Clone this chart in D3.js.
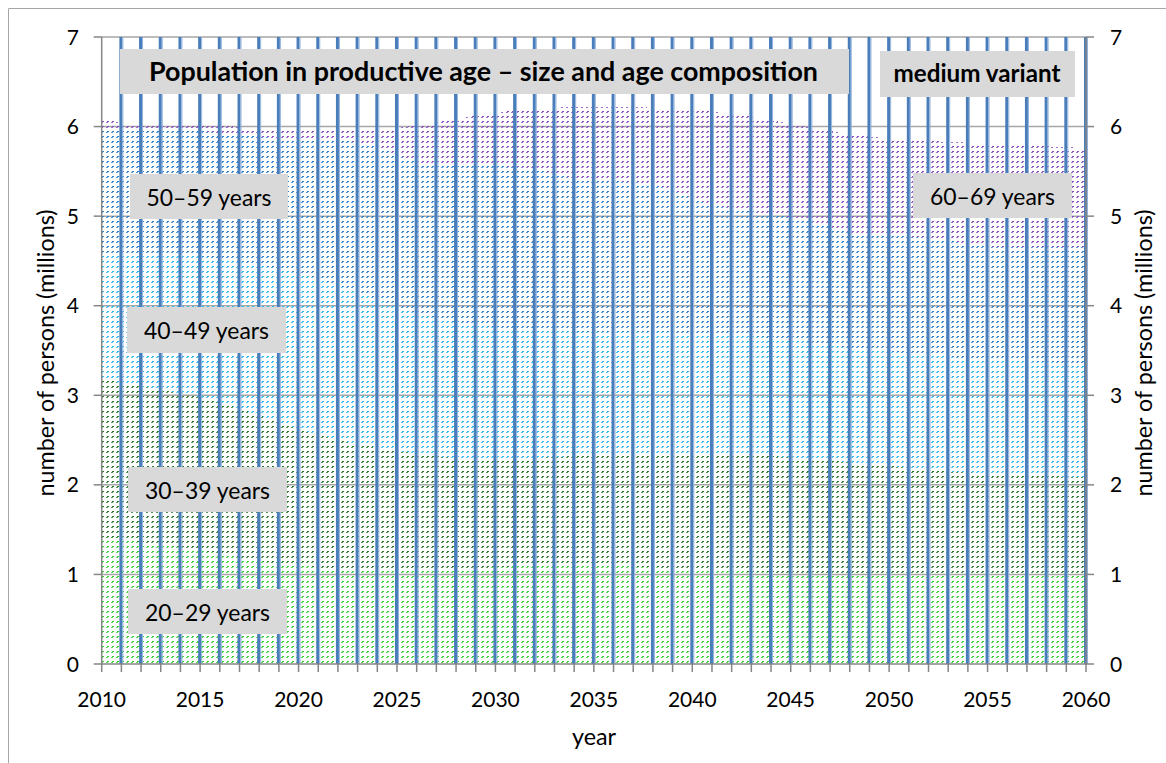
<!DOCTYPE html>
<html><head><meta charset="utf-8">
<script src="https://cdn.jsdelivr.net/npm/d3@7"></script>
<style>html,body{margin:0;padding:0;background:#fff;}svg{display:block;font-family:Lato,"Open Sans",sans-serif;}</style>
</head><body>
<svg id="chart" width="1166" height="763"></svg>
<script>
// ---- data ----
const years = d3.range(2010, 2061);
const ageGroups = ["20–29 years", "30–39 years", "40–49 years", "50–59 years", "60–69 years"];
const age20_29 = [1.40,1.38,1.36,1.33,1.30,1.27,1.23,1.19,1.15,1.12,1.10,1.08,1.06,1.05,1.04,1.04,1.04,1.05,1.06,1.07,1.08,1.09,1.10,1.10,1.10,1.10,1.10,1.09,1.08,1.07,1.06,1.05,1.04,1.03,1.02,1.01,1.01,1.00,1.00,1.00,1.00,1.00,1.00,1.00,1.00,1.00,1.00,1.00,1.00,1.00,1.00];
const age30_39 = [1.79,1.75,1.74,1.73,1.72,1.71,1.69,1.66,1.63,1.58,1.52,1.48,1.44,1.41,1.38,1.34,1.31,1.27,1.24,1.22,1.21,1.20,1.20,1.21,1.22,1.23,1.24,1.26,1.27,1.28,1.29,1.30,1.30,1.30,1.30,1.30,1.28,1.27,1.25,1.23,1.21,1.19,1.17,1.15,1.14,1.13,1.12,1.11,1.10,1.09,1.09];
const age40_49 = [1.36,1.43,1.47,1.51,1.54,1.57,1.60,1.64,1.67,1.71,1.74,1.74,1.73,1.69,1.65,1.61,1.57,1.54,1.51,1.49,1.47,1.45,1.43,1.41,1.39,1.38,1.37,1.36,1.36,1.35,1.35,1.34,1.34,1.33,1.32,1.31,1.30,1.29,1.28,1.28,1.28,1.28,1.28,1.28,1.27,1.27,1.27,1.27,1.27,1.27,1.26];
const age50_59 = [1.43,1.41,1.40,1.39,1.40,1.40,1.41,1.42,1.44,1.46,1.50,1.55,1.61,1.68,1.71,1.69,1.68,1.71,1.75,1.78,1.80,1.81,1.80,1.75,1.71,1.69,1.68,1.67,1.65,1.60,1.50,1.43,1.41,1.40,1.38,1.37,1.36,1.32,1.28,1.28,1.29,1.30,1.31,1.31,1.27,1.26,1.26,1.27,1.28,1.29,1.30];
const age60_69 = [0.11,0.07,0.06,0.07,0.07,0.08,0.09,0.08,0.09,0.10,0.11,0.11,0.12,0.14,0.20,0.31,0.41,0.48,0.53,0.56,0.59,0.63,0.67,0.74,0.80,0.82,0.83,0.84,0.85,0.90,0.99,1.05,1.05,1.05,1.05,1.04,1.04,1.07,1.11,1.10,1.09,1.08,1.08,1.09,1.14,1.15,1.15,1.14,1.13,1.12,1.11];
const barYears = d3.range(2011, 2061);
const barValue = 7;
const yTicks = [0,1,2,3,4,5,6,7];
const xLabelYears = [2010,2015,2020,2025,2030,2035,2040,2045,2050,2055,2060];
const title = "Population in productive age – size and age composition";
const variantLabel = "medium variant";
const yTitle = "number of persons (millions)";
const xTitle = "year";

// ---- setup ----
const svg = d3.select("#chart");
const x = d3.scaleLinear().domain([2010, 2060]).range([101.7, 1086]);
const y = d3.scaleLinear().domain([0, 7]).range([664, 37]);
const colors = ["#36cf36", "#2b7a2b", "#2ab6ef", "#2d80cc", "#8a4cc0"];
const series = [age20_29, age30_39, age40_49, age50_59, age60_69];

const table = years.map((yr, i) => {
  const o = {year: yr};
  ageGroups.forEach((g, k) => o[g] = series[k][i]);
  return o;
});
const stacked = d3.stack().keys(ageGroups)(table);

// border
svg.append("path").attr("d", "M8.5,763V8.5H1166").attr("fill", "none").attr("stroke", "#a6a6a6").attr("stroke-width", 1);

// patterns
const defs = svg.append("defs");
colors.forEach((c, k) => {
  const p = defs.append("pattern").attr("id", "pat" + k).attr("patternUnits", "userSpaceOnUse")
    .attr("width", 5).attr("height", 5);
  p.append("rect").attr("x", 2).attr("y", 1).attr("width", 2).attr("height", 1).attr("fill", c);
  p.append("rect").attr("x", 1).attr("y", 2).attr("width", 2).attr("height", 1).attr("fill", c).attr("opacity", 0.8);
});

// gridlines
svg.append("g").selectAll("line").data(yTicks.filter(d => d > 0)).join("line")
  .attr("x1", x(2010)).attr("x2", x(2060)).attr("y1", d => y(d)).attr("y2", d => y(d))
  .attr("stroke", "#a6a6a6").attr("stroke-width", 1.5);

// areas
const area = d3.area().x(d => x(d.data.year)).y0(d => y(d[0])).y1(d => y(d[1]));
svg.append("g").selectAll("path").data(stacked).join("path")
  .attr("d", area).attr("fill", (d, k) => "url(#pat" + k + ")").attr("shape-rendering", "crispEdges");

// blue bars
const bars = svg.append("g");
bars.selectAll("rect.b").data(barYears).join("rect").attr("class", "b")
  .attr("x", d => x(d) - 2).attr("y", y(barValue)).attr("width", 3).attr("height", y(0) - y(barValue))
  .attr("fill", "#4a7ebb");
bars.selectAll("rect.l").data(barYears).join("rect").attr("class", "l")
  .attr("x", d => x(d) + 1).attr("y", y(barValue)).attr("width", 1).attr("height", y(0) - y(barValue))
  .attr("fill", "#93b3dc");

// axes lines
const axisColor = "#868686";
svg.append("line").attr("x1", x(2010)).attr("x2", x(2010)).attr("y1", y(7)).attr("y2", y(0) + 0.75).attr("stroke", axisColor).attr("stroke-width", 1.5);
svg.append("line").attr("x1", x(2060)).attr("x2", x(2060)).attr("y1", y(7)).attr("y2", y(0) + 0.75).attr("stroke", axisColor).attr("stroke-width", 1.5);
svg.append("line").attr("x1", x(2010)).attr("x2", x(2060)).attr("y1", y(0)).attr("y2", y(0)).attr("stroke", axisColor).attr("stroke-width", 1.5);
svg.append("g").selectAll("line").data(yTicks).join("line")
  .attr("x1", x(2010) - 8).attr("x2", x(2010)).attr("y1", d => y(d)).attr("y2", d => y(d)).attr("stroke", axisColor).attr("stroke-width", 1.5);
svg.append("g").selectAll("line").data(yTicks).join("line")
  .attr("x1", x(2060)).attr("x2", x(2060) + 8).attr("y1", d => y(d)).attr("y2", d => y(d)).attr("stroke", axisColor).attr("stroke-width", 1.5);
svg.append("g").selectAll("line").data(years).join("line")
  .attr("x1", d => x(d)).attr("x2", d => x(d)).attr("y1", y(0)).attr("y2", y(0) + 8).attr("stroke", axisColor).attr("stroke-width", 1.5);

function fit(sel, target) {
  const w = sel.node().getComputedTextLength();
  const fs = parseFloat(sel.attr("font-size"));
  sel.attr("font-size", (fs * target / w).toFixed(2));
}

// tick labels
const tickFs = 21;
svg.append("g").selectAll("text").data(yTicks).join("text")
  .attr("x", 79).attr("y", d => y(d) + 7.5).attr("text-anchor", "end")
  .attr("font-size", tickFs).attr("fill", "#000").text(d => d);
svg.append("g").selectAll("text").data(yTicks).join("text")
  .attr("x", 1110).attr("y", d => y(d) + 7.5).attr("text-anchor", "start")
  .attr("font-size", tickFs).attr("fill", "#000").text(d => d);
svg.append("g").selectAll("text").data(xLabelYears).join("text")
  .attr("x", d => x(d)).attr("y", 707).attr("text-anchor", "middle")
  .attr("font-size", tickFs).attr("fill", "#000").text(d => d);

// axis titles
const yt1 = svg.append("text").attr("transform", "translate(54,353) rotate(-90)").attr("text-anchor", "middle")
  .attr("font-size", 20).text(yTitle);
fit(yt1, 287);
const yt2 = svg.append("text").attr("transform", "translate(1152,353) rotate(-90)").attr("text-anchor", "middle")
  .attr("font-size", 20).text(yTitle);
fit(yt2, 287);
svg.append("text").attr("x", 594).attr("y", 745).attr("text-anchor", "middle").attr("font-size", parseFloat(yt1.attr("font-size"))).text(xTitle);

// title boxes
function box(x0, y0, x1, y1) {
  svg.append("rect").attr("x", x0).attr("y", y0).attr("width", x1 - x0).attr("height", y1 - y0).attr("fill", "#d9d9d9");
}
box(120, 49, 849, 94);
const t = svg.append("text").attr("x", 483.5).attr("y", 81).attr("text-anchor", "middle")
  .attr("font-size", 24).attr("font-weight", 700).text(title);
fit(t, 669);
box(880, 51, 1075, 97);
const mv = svg.append("text").attr("x", 977).attr("y", 82).attr("text-anchor", "middle")
  .attr("font-size", 22).attr("font-weight", 700).text(variantLabel);
fit(mv, 167);

// group labels
const labelBoxes = [
  {label: ageGroups[0], x0: 128, y0: 589, x1: 287, y1: 634, base: 620.5},
  {label: ageGroups[1], x0: 128, y0: 467, x1: 287, y1: 512, base: 498.5},
  {label: ageGroups[2], x0: 127, y0: 307, x1: 286, y1: 353, base: 339},
  {label: ageGroups[3], x0: 130, y0: 174, x1: 288, y1: 219, base: 206},
  {label: ageGroups[4], x0: 913, y0: 173, x1: 1072, y1: 218, base: 205}
];
labelBoxes.forEach(b => {
  box(b.x0, b.y0, b.x1, b.y1);
  const tt = svg.append("text").attr("x", (b.x0 + b.x1) / 2).attr("y", b.base).attr("text-anchor", "middle")
    .attr("font-size", 22).text(b.label);
  fit(tt, 125);
});
</script>
</body></html>
